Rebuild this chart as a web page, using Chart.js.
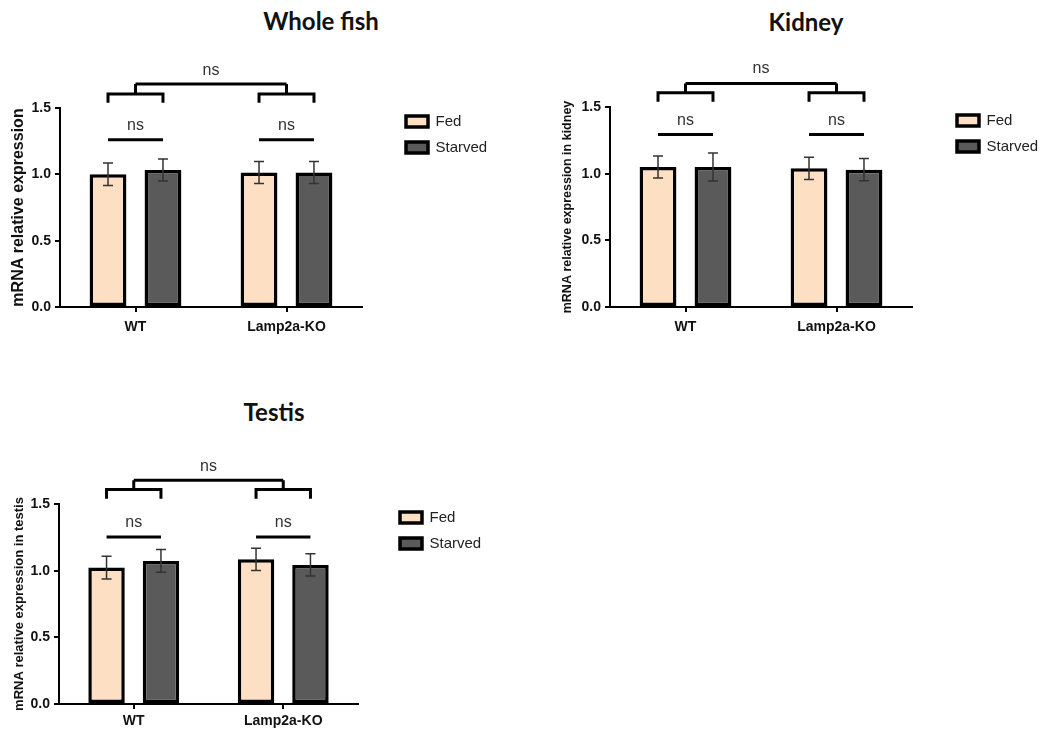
<!DOCTYPE html>
<html>
<head>
<meta charset="utf-8">
<script src="https://cdn.jsdelivr.net/npm/chart.js@4.4.1/dist/chart.umd.min.js"></script>
<style>
  body { margin: 0; background: #fff; width: 1052px; height: 734px; position: relative; overflow: hidden; }
  canvas { position: absolute; }
  .ttl { position: absolute; transform: translateX(-50%); white-space: nowrap;
         font-family: Lato, 'Open Sans', sans-serif; font-weight: 700; font-size: 24px; color: #111; }
</style>
</head>
<body>
<div class="ttl" style="left:321px;top:6px">Whole fish</div>
<div class="ttl" style="left:806px;top:7px">Kidney</div>
<div class="ttl" style="left:274px;top:397px">Testis</div>

<canvas id="c_fish" width="495" height="300" style="left:0;top:40px"></canvas>
<canvas id="c_kidney" width="506" height="300" style="left:540px;top:40px"></canvas>
<canvas id="c_testis" width="489" height="300" style="left:0;top:430px"></canvas>

<script>
// ---------- dados
const groups = ['WT', 'Lamp2a-KO'];
const seriesNames = ['Fed', 'Starved'];
const yTicks = [0, 0.5, 1.0, 1.5];
const sigWithin = ['ns', 'ns'];
const sigBetween = 'ns';

// Whole fish
const fishFed = [1.00, 1.013];
const fishFedErr = [0.085, 0.083];
const fishStarved = [1.033, 1.013];
const fishStarvedErr = [0.083, 0.083];

// Kidney
const kidneyFed = [1.05, 1.04];
const kidneyFedErr = [0.083, 0.083];
const kidneyStarved = [1.05, 1.03];
const kidneyStarvedErr = [0.105, 0.083];

// Testis
const testisFed = [1.023, 1.085];
const testisFedErr = [0.085, 0.084];
const testisStarved = [1.073, 1.043];
const testisStarvedErr = [0.085, 0.083];

const FED_COLOR = '#fde0c3';
const STARVED_COLOR = '#5a5a5a';
const FONT = "'Liberation Sans', Arial, sans-serif";
const LEGEND_W = 100;

// ---------- largura fixa da legenda (senão o texto é cortado)
const legendWidth = {
  id: 'legendWidth',
  beforeInit(chart) {
    const fit = chart.legend.fit;
    chart.legend.fit = function () {
      fit.call(this);
      this.width = LEGEND_W;
    };
  }
};

// ---------- barras de erro + colchetes de significância
const annot = {
  id: 'annot',
  afterDatasetsDraw(chart, args, o) {
    const { ctx } = chart;
    const y = chart.scales.y;
    ctx.save();
    // barras de erro
    chart.data.datasets.forEach((ds, di) => {
      const meta = chart.getDatasetMeta(di);
      meta.data.forEach((bar, i) => {
        const x = bar.x;
        const yt = y.getPixelForValue(ds.data[i] + ds.errors[i]);
        const yb = y.getPixelForValue(ds.data[i] - ds.errors[i]);
        ctx.strokeStyle = '#333';
        ctx.lineWidth = 1.5;
        ctx.beginPath();
        ctx.moveTo(x, yt); ctx.lineTo(x, yb);
        ctx.moveTo(x - 5, yt); ctx.lineTo(x + 5, yt);
        ctx.moveTo(x - 5, yb); ctx.lineTo(x + 5, yb);
        ctx.stroke();
      });
    });

    // colchetes
    const lv = o.levels;
    const m0 = chart.getDatasetMeta(0).data;
    const m1 = chart.getDatasetMeta(1).data;
    const py = (v) => y.getPixelForValue(v);
    ctx.strokeStyle = '#000';
    ctx.lineWidth = 3;
    ctx.lineCap = 'butt';
    ctx.fillStyle = '#333';
    ctx.font = '16px ' + FONT;
    ctx.textAlign = 'center';
    ctx.textBaseline = 'middle';
    const mids = [];
    groups.forEach((g, i) => {
      const xa = m0[i].x, xb = m1[i].x;
      const mid = (xa + xb) / 2;
      mids.push(mid);
      // dentro do grupo
      ctx.beginPath();
      ctx.moveTo(xa, py(lv.inner)); ctx.lineTo(xb, py(lv.inner));
      ctx.stroke();
      ctx.fillText(sigWithin[i], mid, py(lv.innerText));
      // colchete do grupo
      ctx.beginPath();
      ctx.moveTo(xa, py(lv.leg)); ctx.lineTo(xa, py(lv.bar));
      ctx.lineTo(xb, py(lv.bar)); ctx.lineTo(xb, py(lv.leg));
      ctx.moveTo(mid, py(lv.bar)); ctx.lineTo(mid, py(lv.top));
      ctx.stroke();
    });
    ctx.beginPath();
    ctx.moveTo(mids[0], py(lv.top)); ctx.lineTo(mids[1], py(lv.top));
    ctx.stroke();
    ctx.fillText(sigBetween, (mids[0] + mids[1]) / 2, py(lv.topText));
    ctx.restore();
  }
};

function makeChart(id, c) {
  return new Chart(document.getElementById(id), {
    type: 'bar',
    data: {
      labels: groups,
      datasets: [
        { label: seriesNames[0], data: c.fed, errors: c.fedErr, backgroundColor: FED_COLOR,
          borderColor: '#000', borderWidth: 3.5, borderSkipped: false },
        { label: seriesNames[1], data: c.starved, errors: c.starvedErr, backgroundColor: STARVED_COLOR,
          borderColor: '#000', borderWidth: 3.5, borderSkipped: false }
      ]
    },
    plugins: [legendWidth, annot],
    options: {
      responsive: false,
      animation: false,
      categoryPercentage: 0.728,
      barPercentage: 0.67,
      layout: { padding: { top: c.padTop, left: 0, right: 0, bottom: 0 } },
      scales: {
        x: {
          grid: { display: true, drawOnChartArea: false, offset: false, color: '#000', lineWidth: 2, tickLength: 5 },
          border: { display: true, color: '#000', width: 2 },
          ticks: { color: '#111', font: { family: FONT, size: 14, weight: 'bold' }, padding: c.xPad },
          afterFit: (s) => { s.height = c.xHeight; }
        },
        xTop: {
          type: 'category', position: 'top', display: true,
          grid: { display: false }, border: { display: false }, ticks: { display: false },
          afterFit: (s) => { s.height = 5; }
        },
        y: {
          min: 0, max: 1.5,
          afterBuildTicks: (s) => { s.ticks = yTicks.map(v => ({ value: v })); },
          grid: { display: true, drawOnChartArea: false, color: '#000', lineWidth: 2, tickLength: 5 },
          border: { display: true, color: '#000', width: 2 },
          ticks: { color: '#111', font: { family: FONT, size: 14, weight: 'bold' }, padding: 4,
                   callback: (v) => Number(v).toFixed(1) },
          title: { display: true, text: c.yTitle, color: '#111',
                   font: { family: FONT, size: c.yTitleSize, weight: 'bold' },
                   padding: { top: c.yTitlePad, bottom: 0 } },
          afterFit: (s) => { s.width = c.yWidth; }
        },
        yGap: {
          type: 'linear', position: 'right', display: true,
          grid: { display: false }, border: { display: false }, ticks: { display: false },
          afterFit: (s) => { s.width = c.gap; }
        }
      },
      plugins: {
        legend: {
          position: 'right', align: 'start',
          labels: { boxWidth: 22, boxHeight: 11, padding: 11, color: '#222',
                    font: { family: FONT, size: 15 } }
        },
        tooltip: { enabled: false },
        annot: { levels: c.levels }
      }
    }
  });
}

makeChart('c_fish', {
  fed: fishFed, fedErr: fishFedErr, starved: fishStarved, starvedErr: fishStarvedErr,
  yTitle: 'mRNA relative expression', yTitleSize: 16, yTitlePad: 9,
  yWidth: 60, gap: 33, padTop: 63, xHeight: 33, xPad: 7,
  levels: { inner: 1.26, innerText: 1.37, leg: 1.54, bar: 1.605, top: 1.68, topText: 1.78 }
});

makeChart('c_kidney', {
  fed: kidneyFed, fedErr: kidneyFedErr, starved: kidneyStarved, starvedErr: kidneyStarvedErr,
  yTitle: 'mRNA relative expression in kidney', yTitleSize: 12.5, yTitlePad: 20,
  yWidth: 70, gap: 34, padTop: 62, xHeight: 33, xPad: 7,
  levels: { inner: 1.294, innerText: 1.40, leg: 1.54, bar: 1.606, top: 1.676, topText: 1.788 }
});

makeChart('c_testis', {
  fed: testisFed, fedErr: testisFedErr, starved: testisStarved, starvedErr: testisStarvedErr,
  yTitle: 'mRNA relative expression in testis', yTitleSize: 13, yTitlePad: 12,
  yWidth: 59, gap: 31, padTop: 69, xHeight: 26, xPad: 4,
  levels: { inner: 1.253, innerText: 1.363, leg: 1.54, bar: 1.609, top: 1.679, topText: 1.784 }
});
</script>
</body>
</html>
